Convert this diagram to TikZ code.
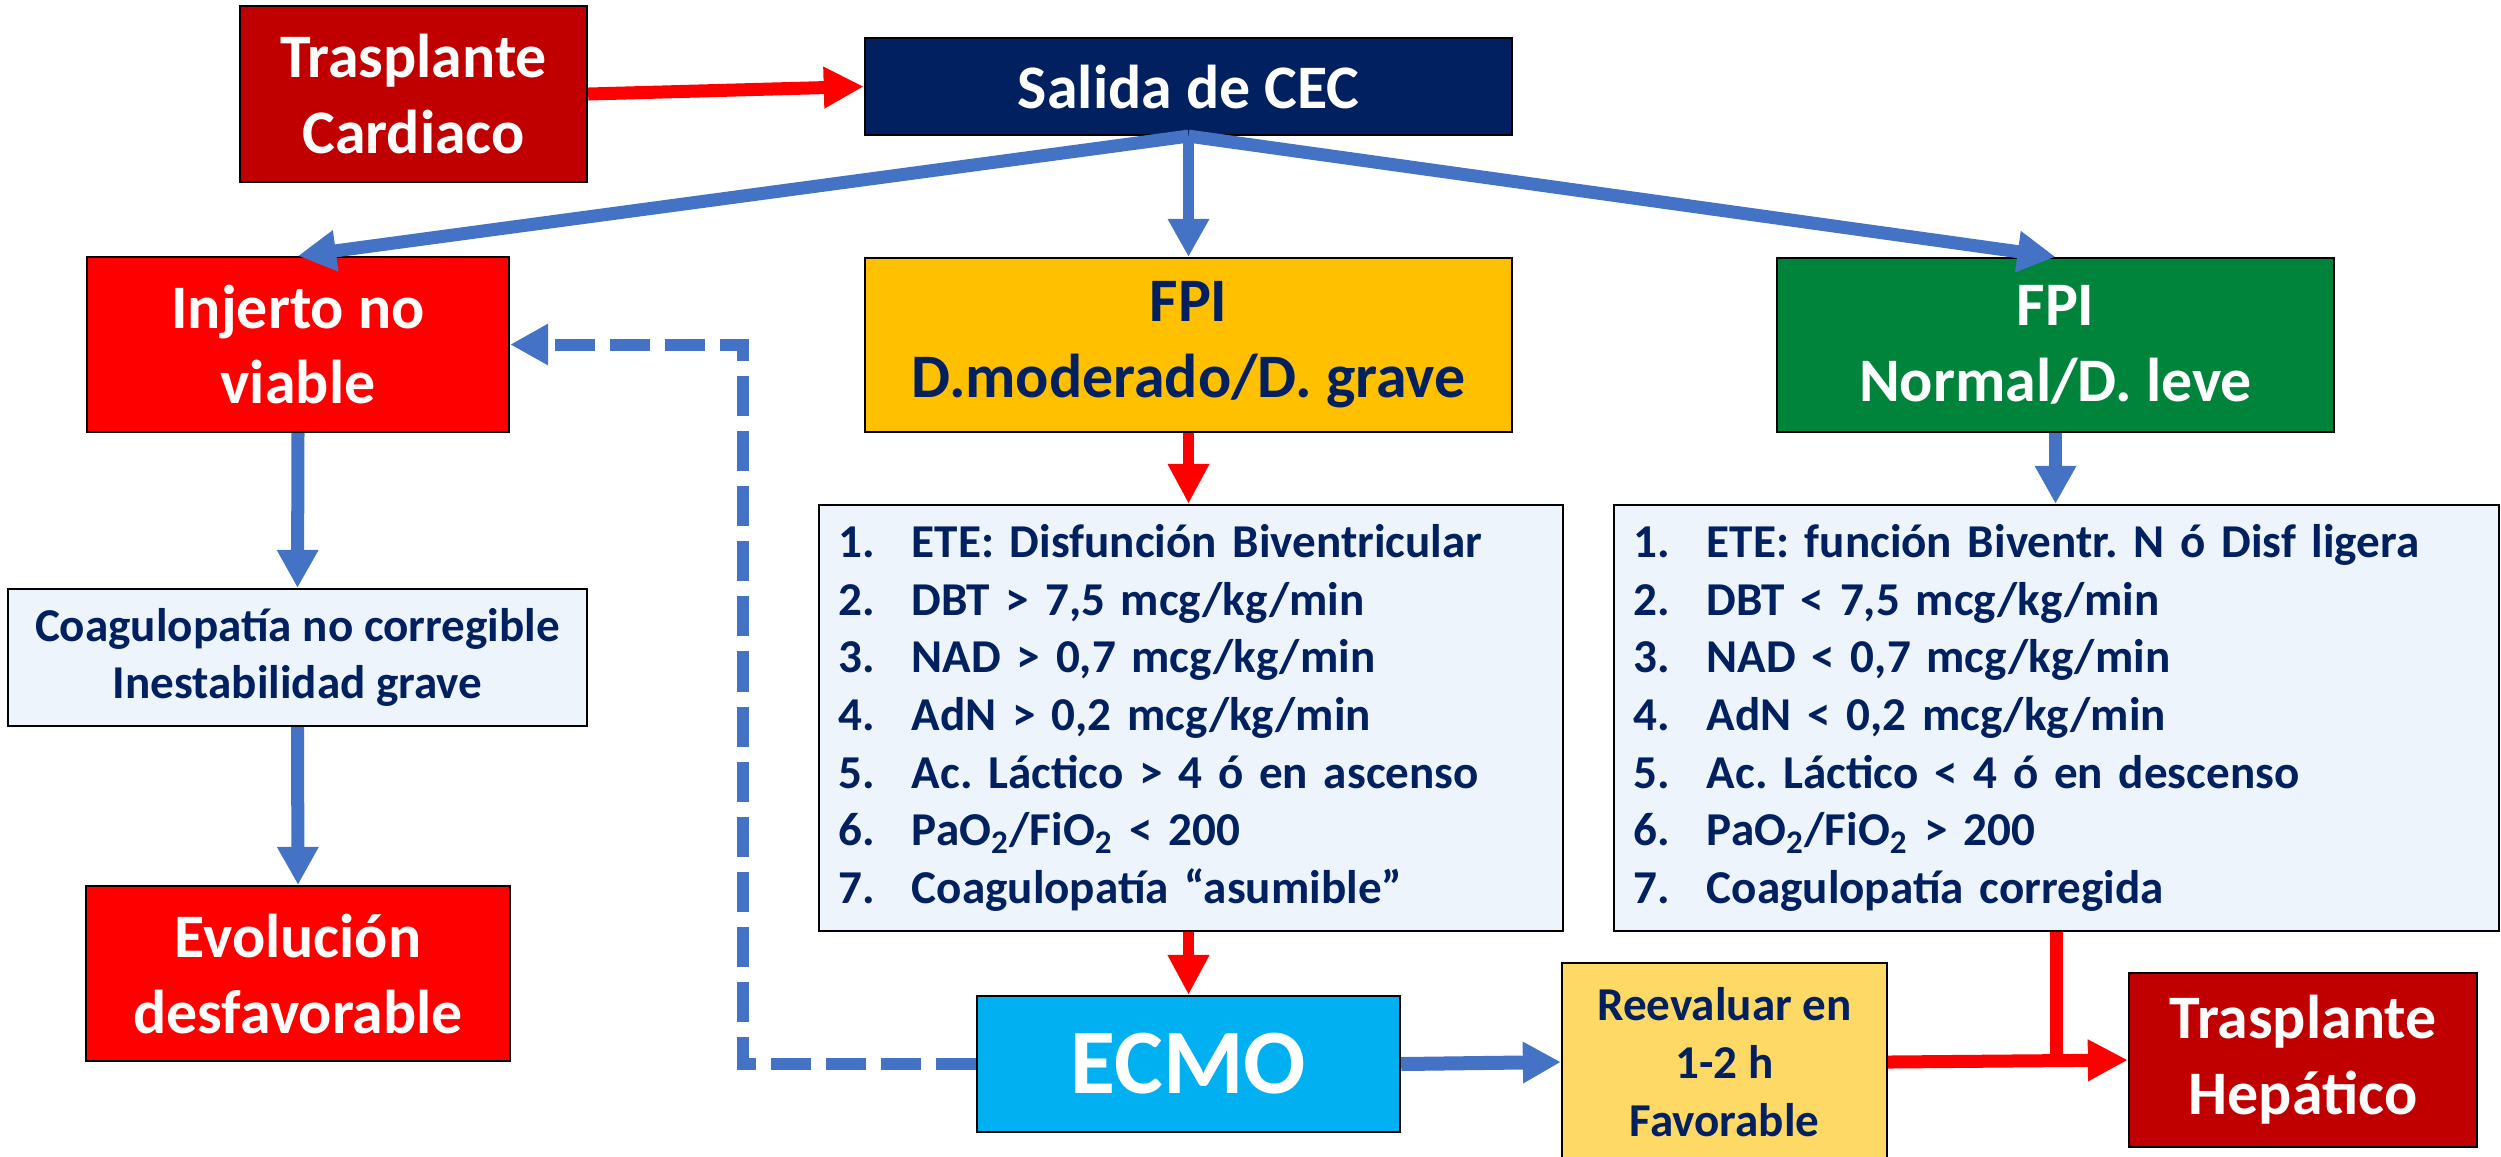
\documentclass[tikz,border=0pt]{standalone}
\usepackage{fontspec}
\setmainfont{Carlito}
\usetikzlibrary{arrows.meta}
\frenchspacing

\definecolor{tpred}{HTML}{C00000}
\definecolor{navy}{HTML}{002060}
\definecolor{alarm}{HTML}{FF0000}
\definecolor{amber}{HTML}{FFC000}
\definecolor{okgreen}{HTML}{00843C}
\definecolor{ecmoblue}{HTML}{00B0F0}
\definecolor{paleblue}{HTML}{EDF4FB}
\definecolor{lightgold}{HTML}{FFD966}
\definecolor{flowblue}{HTML}{4472C4}

\newcommand{\bigtxt}{\fontsize{17.6}{21.6}\selectfont\bfseries}
\newcommand{\smalltxt}{\fontsize{13.4}{16.4}\selectfont\bfseries}
\newcommand{\itm}[2]{\makebox[0.73cm][l]{#1.}#2}

\begin{document}
\begin{tikzpicture}[
    x=0.01cm, y=-0.01cm,
    box/.style={draw=black, line width=0.6pt, align=center, inner sep=0pt},
    hdr/.style={box, font=\bigtxt, text=white},
    note/.style={box, font=\smalltxt, text=navy},
    listbox/.style={box, fill=paleblue, font=\smalltxt, text=navy, align=left,
                    minimum height=4.26cm},
    bluearr/.style={-{Triangle[length=0.38cm, width=0.39cm]}, flowblue, line width=0.13cm},
    redarr/.style={-{Triangle[length=0.40cm, width=0.39cm]}, alarm, line width=0.11cm},
    redline/.style={alarm, line width=0.12cm},
    dasharr/.style={bluearr, line width=0.12cm, dash pattern=on 0.4cm off 0.15cm},
  ]
  \useasboundingbox (0,0) rectangle (2501,1156);

  % --- column geometry (px) ---
  \def\colL{298}  \def\colM{1188.5}  \def\colR{2055.5}

  % --- top row ---
  \node[hdr, fill=tpred, minimum width=3.47cm, minimum height=1.76cm] (tc)
    at (413.5,94) {Trasplante\\Cardiaco};
  \node[hdr, fill=navy, minimum width=6.47cm, minimum height=0.97cm] (cec)
    at (\colM,86.5) {Salida de CEC};

  % --- FPI row ---
  \node[hdr, fill=alarm, minimum width=4.22cm, minimum height=1.75cm] (inj)
    at (\colL,344.5) {Injerto no\\viable};
  \node[hdr, fill=amber, text=navy, minimum width=6.47cm, minimum height=1.74cm] (fpiM)
    at (\colM,345) {FPI\\D.moderado/D. grave};
  \node[hdr, fill=okgreen, minimum width=5.57cm, minimum height=1.74cm] (fpiN)
    at (\colR,345) {FPI\\Normal/D. leve};

  % --- criteria ---
  \node[note, fill=paleblue, minimum width=5.79cm, minimum height=1.37cm] (coag)
    at (297.5,657.5) {Coagulopatía no corregible\\Inestabilidad grave};
  \node[listbox, minimum width=7.44cm, text width=7.04cm] (listM) at (1191,718)
    {\itm{1}{ETE: Disfunción Biventricular}\\
     \itm{2}{DBT > 7,5 mcg/kg/min}\\
     \itm{3}{NAD > 0,7 mcg/kg/min}\\
     \itm{4}{AdN > 0,2 mcg/kg/min}\\
     \itm{5}{Ac. Láctico > 4 ó en ascenso}\\
     \itm{6}{PaO\textsubscript{2}/FiO\textsubscript{2} < 200}\\
     \itm{7}{Coagulopatía “asumible”}};
  \node[listbox, minimum width=8.85cm, text width=8.45cm] (listN) at (2056.5,718)
    {\itm{1}{ETE: función Biventr. N ó Disf ligera}\\
     \itm{2}{DBT < 7,5 mcg/kg/min}\\
     \itm{3}{NAD < 0,7 mcg/kg/min}\\
     \itm{4}{AdN < 0,2 mcg/kg/min}\\
     \itm{5}{Ac. Láctico < 4 ó en descenso}\\
     \itm{6}{PaO\textsubscript{2}/FiO\textsubscript{2} > 200}\\
     \itm{7}{Coagulopatía corregida}};

  % --- bottom row ---
  \node[hdr, fill=alarm, minimum width=4.23cm, minimum height=1.75cm] (evol)
    at (\colL,973.5) {Evolución\\desfavorable};
  \node[hdr, fill=ecmoblue, font=\fontsize{26.2}{30}\selectfont\bfseries,
        minimum width=4.23cm, minimum height=1.36cm] (ecmo)
    at (\colM,1064) {ECMO};
  \node[note, fill=lightgold, minimum width=3.25cm, minimum height=1.98cm] (reev)
    at (1724.5,1062) {Reevaluar en\\1-2 h\\Favorable};
  \node[hdr, fill=tpred, minimum width=3.48cm, minimum height=1.74cm] (hep)
    at (2303,1060) {Trasplante\\Hepático};

  % --- connectors ---
  \draw[redarr, line width=0.13cm] (tc.east) -- (cec.west);
  \draw[bluearr] (cec.south) -- (inj.north);
  \draw[bluearr, line width=0.11cm] (cec.south) -- (fpiM.north);
  \draw[bluearr] (cec.south) -- (fpiN.north);

  \draw[bluearr] (inj.south) -- (coag.north);
  \draw[bluearr] (coag.south) -- (evol.north);

  \draw[redarr] (fpiM.south) -- (fpiM.south |- listM.north);
  \draw[redarr] (fpiM.south |- listM.south) -- (ecmo.north);
  \draw[bluearr] (fpiN.south) -- (fpiN.south |- listN.north);

  % dashed return from ECMO to the graft box
  \coordinate (ret) at (743,0);
  \draw[dasharr] (ecmo.west) -| (ret |- inj.east) -- (inj.east);

  \draw[bluearr, line width=0.14cm] (ecmo.east) -- (reev.west);
  \draw[redline, line width=0.13cm] (listN.south) -- (listN.south |- hep.west);
  \draw[redarr, line width=0.13cm] (reev.east) -- (hep.west);
\end{tikzpicture}
\end{document}
